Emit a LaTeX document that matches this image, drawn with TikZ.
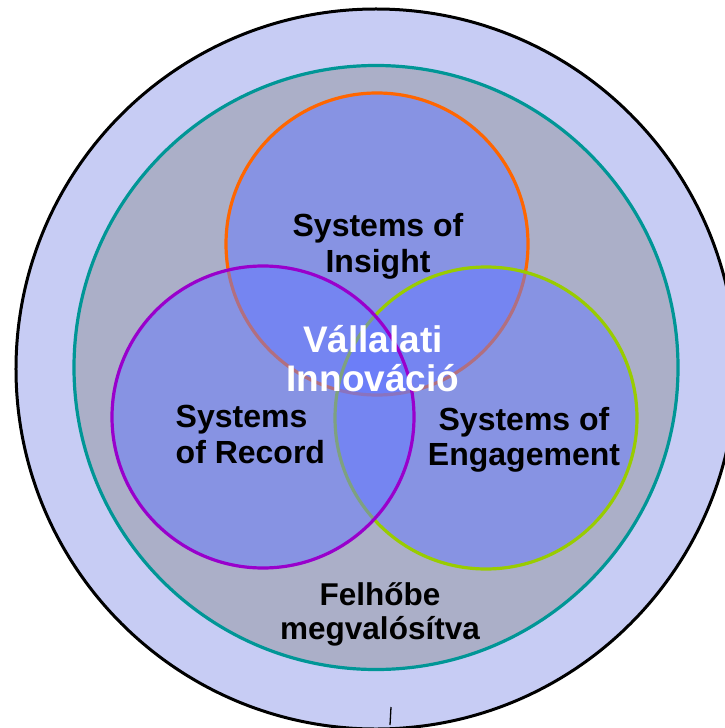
\documentclass[tikz,border=0pt]{standalone}
\usepackage{fontspec}
\setmainfont{Liberation Sans}
\definecolor{outerring}{RGB}{199,204,244}
\definecolor{tealfill}{RGB}{171,175,200}
\definecolor{tealline}{RGB}{0,150,150}
\definecolor{vennblue}{RGB}{100,120,255}
\definecolor{insightline}{RGB}{255,102,0}
\definecolor{recordline}{RGB}{153,0,204}
\definecolor{engageline}{RGB}{153,204,0}
\tikzset{
  ring/.style={circle, inner sep=0pt, outer sep=0pt},
  venn/.style={circle, inner sep=0pt, outer sep=0pt, minimum size=302bp,
    fill=vennblue, fill opacity=0.5, line width=3.2bp},
  lbl/.style={inner sep=0pt, font=\bfseries\fontsize{32bp}{35.5bp}\selectfont, text=black},
  biglbl/.style={inner sep=0pt, font=\bfseries\fontsize{37bp}{39bp}\selectfont, text=white}
}
\begin{document}
\begin{tikzpicture}[x=1bp,y=-1bp]
\useasboundingbox (0,0) rectangle (725,728);
\begin{scope}
\clip (0,0) rectangle (725,728);
\node[ring, minimum size=720bp, fill=outerring, draw=black, line width=3bp] (cloud) at (376,369) {};
\node[ring, minimum size=604bp, fill=tealfill, draw=tealline, line width=3.2bp] (inner) at (376,367.5) {};
\node[venn, draw=insightline] (insight) at (377,244) {};
\node[venn, draw=engageline] (engage) at (486,418) {};
\node[venn, draw=recordline] (record) at (263,417) {};
\coordinate (tickA) at (391,707);
\coordinate (tickB) at (390,725);
\draw[line width=1.3bp] (tickA) -- (tickB);
\end{scope}
\node[lbl, align=center] (tinsight) at (378,246.5) {Systems of\\Insight};
\node[lbl, align=left, anchor=west] (trecord) at (175.5,434.5) {Systems\\of Record};
\node[lbl, align=center] (tengage) at (524,440) {Systems of\\Engagement};
\node[biglbl, align=center] (tinnov) at (373,359) {Vállalati\\Innováció};
\node[lbl, align=center, font=\bfseries\fontsize{31.5bp}{34bp}\selectfont] (tcloud) at (380,614) {Felhőbe\\megvalósítva};
\end{tikzpicture}
\end{document}
